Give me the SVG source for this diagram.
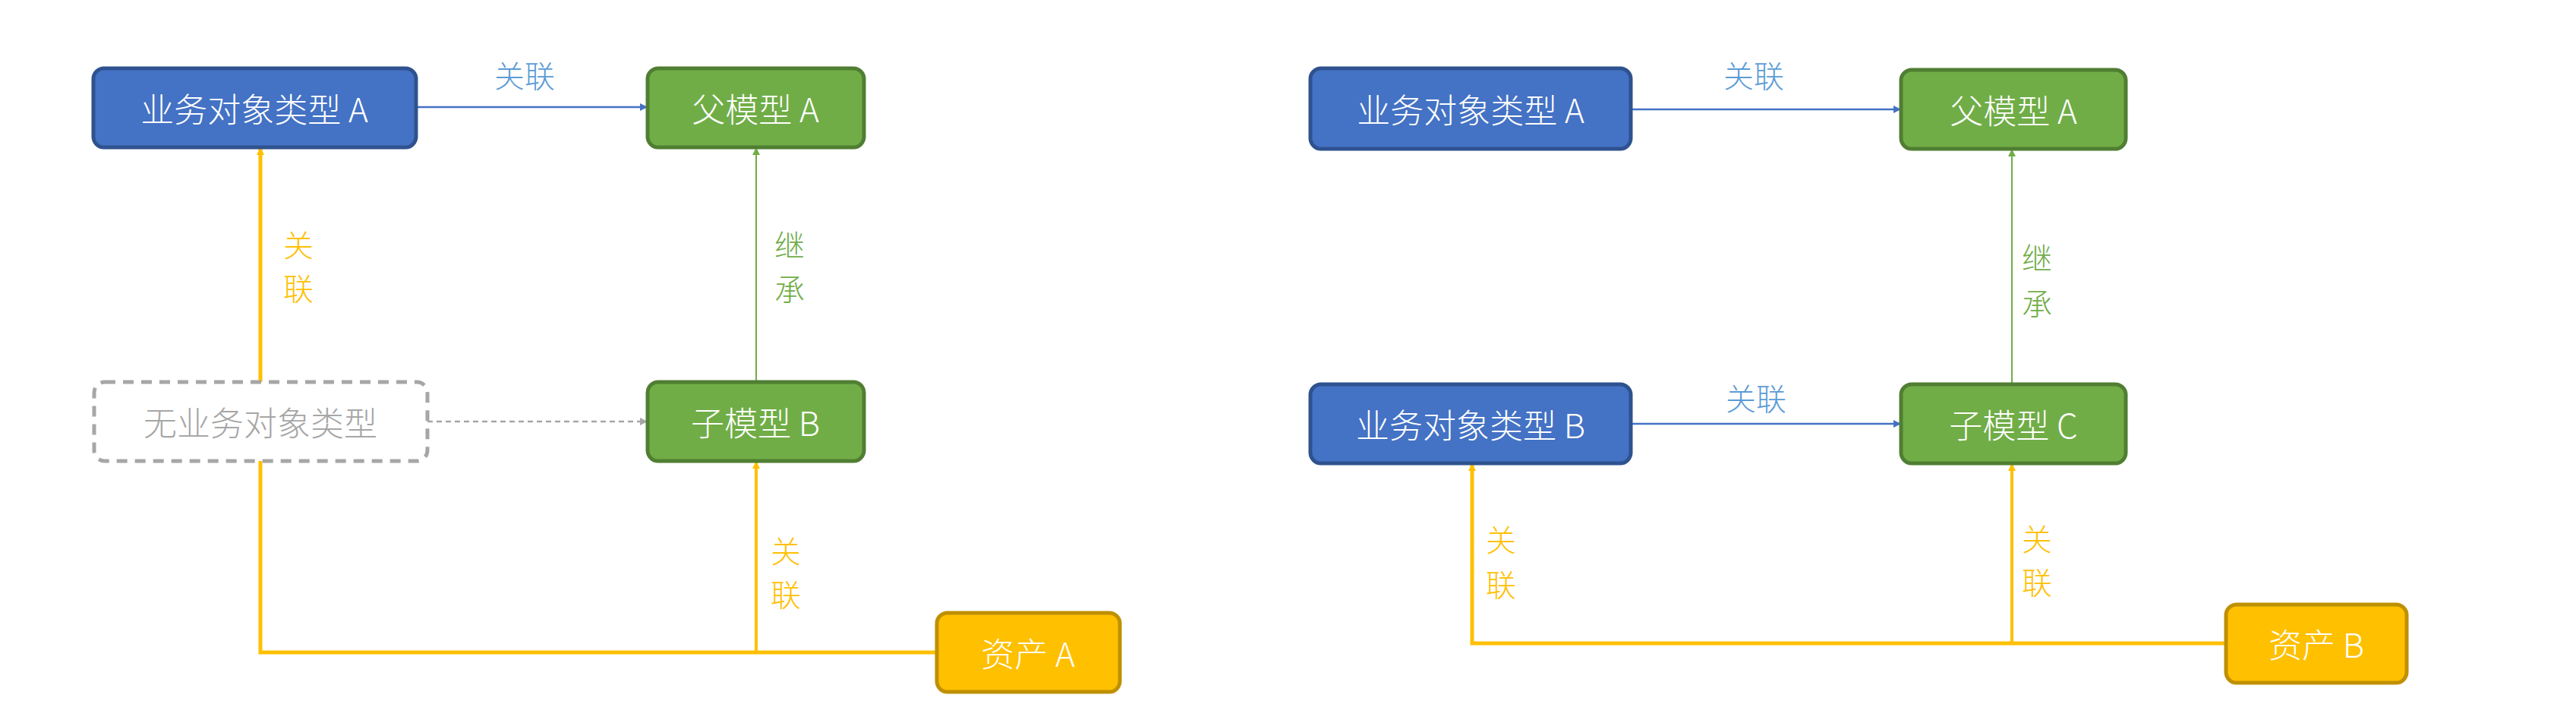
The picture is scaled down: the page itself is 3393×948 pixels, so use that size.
<svg xmlns="http://www.w3.org/2000/svg" width="3393" height="948" viewBox="0 0 3393 948">
<style>
.n{stroke-width:5}
.blue{fill:#4472C4;stroke:#2F528F}
.green{fill:#70AD47;stroke:#507E32}
.yel{fill:#FFC000;stroke:#BF9000}
.t{font-family:"Noto Sans CJK SC",sans-serif;font-size:44px;fill:#fff;text-anchor:middle;dominant-baseline:central;font-weight:300}
.l{font-family:"Noto Sans CJK SC",sans-serif;font-size:40px;text-anchor:middle;dominant-baseline:central;font-weight:300}
</style>
<defs>
<marker id="ab" markerWidth="10" markerHeight="10" refX="10" refY="5" orient="auto" markerUnits="userSpaceOnUse" viewBox="0 0 10 10"><path d="M0,0L10,5L0,10z" fill="#4472C4"/></marker>
<marker id="ag" markerWidth="10" markerHeight="10" refX="10" refY="5" orient="auto" markerUnits="userSpaceOnUse" viewBox="0 0 10 10"><path d="M0,0L10,5L0,10z" fill="#70AD47"/></marker>
<marker id="ay" markerWidth="10" markerHeight="10" refX="10" refY="5" orient="auto" markerUnits="userSpaceOnUse" viewBox="0 0 10 10"><path d="M0,0L10,5L0,10z" fill="#FFC000"/></marker>
<marker id="aa" markerWidth="10" markerHeight="10" refX="10" refY="5" orient="auto" markerUnits="userSpaceOnUse" viewBox="0 0 10 10"><path d="M0,0L10,5L0,10z" fill="#A6A6A6"/></marker>
</defs>
<g id="connectors" fill="none">
<path d="M548,141H853" stroke="#4472C4" stroke-width="2.5" marker-end="url(#ab)" style="marker-end:url(#ab)"/>
<path d="M996,503V194" stroke="#70AD47" stroke-width="2" marker-end="url(#ag)"/>
<path d="M563,555H853" stroke="#A6A6A6" stroke-width="2.5" stroke-dasharray="7,5" marker-end="url(#aa)"/>
<path d="M1234,859H343V194" stroke="#FFC000" stroke-width="5" marker-end="url(#ay)"/>
<path d="M996,859V607" stroke="#FFC000" stroke-width="4" marker-end="url(#ay)"/>
<path d="M2148,144H2504" stroke="#4472C4" stroke-width="2.5" marker-end="url(#ab)"/>
<path d="M2148,558H2504" stroke="#4472C4" stroke-width="2.5" marker-end="url(#ab)"/>
<path d="M2650,506V196" stroke="#70AD47" stroke-width="2" marker-end="url(#ag)"/>
<path d="M2932,847H1939V610" stroke="#FFC000" stroke-width="5" marker-end="url(#ay)"/>
<path d="M2650,847V610" stroke="#FFC000" stroke-width="4" marker-end="url(#ay)"/>
<text class="l" x="691" y="98" fill="#5B9BD5">关联</text>
<text class="l" x="1040" y="321" fill="#70AD47">继</text><text class="l" x="1040" y="379" fill="#70AD47">承</text>
<text class="l" x="393" y="321" fill="#FFC000">关</text><text class="l" x="393" y="378" fill="#FFC000">联</text>
<text class="l" x="1035" y="724" fill="#FFC000">关</text><text class="l" x="1035" y="781" fill="#FFC000">联</text>
<text class="l" x="2310" y="98" fill="#5B9BD5">关联</text>
<text class="l" x="2313" y="523" fill="#5B9BD5">关联</text>
<text class="l" x="2683" y="338" fill="#70AD47">继</text><text class="l" x="2683" y="398" fill="#70AD47">承</text>
<text class="l" x="1977" y="709" fill="#FFC000">关</text><text class="l" x="1977" y="768" fill="#FFC000">联</text>
<text class="l" x="2683" y="708" fill="#FFC000">关</text><text class="l" x="2683" y="765" fill="#FFC000">联</text>
</g>
<g id="bizA1"><rect class="n blue" x="123" y="90" width="425" height="104" rx="14"/><text class="t" x="335" y="142">业务对象类型 A</text></g>
<g id="parentA1"><rect class="n green" x="853" y="90" width="285" height="104" rx="14"/><text class="t" x="995" y="142">父模型 A</text></g>
<g id="noBiz"><rect x="124" y="503" width="439" height="104" rx="14" fill="#fff" stroke="#A6A6A6" stroke-width="5" stroke-dasharray="14,10"/><text class="t" x="343" y="555" fill="#A6A6A6" style="fill:#A6A6A6">无业务对象类型</text></g>
<g id="childB"><rect class="n green" x="853" y="503" width="285" height="104" rx="14"/><text class="t" x="995" y="555">子模型 B</text></g>
<g id="assetA"><rect class="n yel" x="1234" y="807" width="241" height="104" rx="14"/><text class="t" x="1354" y="859">资产 A</text></g>
<g id="bizA2"><rect class="n blue" x="1726" y="90" width="422" height="106" rx="14"/><text class="t" x="1937" y="143">业务对象类型 A</text></g>
<g id="parentA2"><rect class="n green" x="2504" y="92" width="296" height="104" rx="14"/><text class="t" x="2652" y="144">父模型 A</text></g>
<g id="bizB"><rect class="n blue" x="1726" y="506" width="422" height="104" rx="14"/><text class="t" x="1937" y="558">业务对象类型 B</text></g>
<g id="childC"><rect class="n green" x="2504" y="506" width="296" height="104" rx="14"/><text class="t" x="2652" y="558">子模型 C</text></g>
<g id="assetB"><rect class="n yel" x="2932" y="796" width="238" height="103" rx="14"/><text class="t" x="3051" y="847">资产 B</text></g>
</svg>
